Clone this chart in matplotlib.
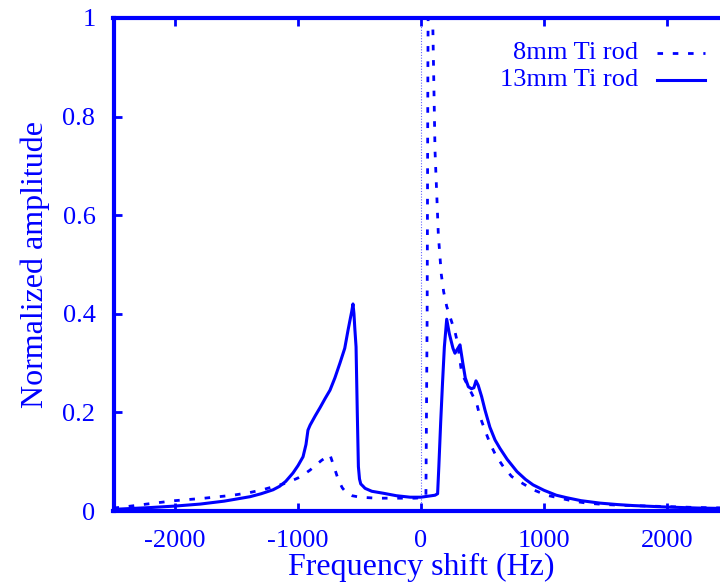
import matplotlib
matplotlib.use("Agg")
import matplotlib.pyplot as plt

# 8mm Ti rod (dashed)
freq_8mm = [-2500, -2390, -2200, -2000, -1760, -1530, -1400, -1290, -1190, -1090, -1000, -930,
            -902, -860, -807, -770, -740, -710, -672, -640, -604, -560, -496, -430, -360,
            -250, -146, -50, 16, 40, 50, 56, 62, 75, 95, 114, 130, 141, 165, 184, 209, 249,
            276, 298, 331, 385, 453, 480, 520, 561, 610, 669, 737, 832, 913, 1022, 1130,
            1240, 1347, 1500, 1700, 2000, 2250, 2500]
amp_8mm = [0.006, 0.009, 0.015, 0.021, 0.026, 0.032, 0.037, 0.043, 0.05, 0.057, 0.067, 0.078,
           0.083, 0.092, 0.103, 0.109, 0.114, 0.092, 0.063, 0.047, 0.036, 0.031, 0.028, 0.027,
           0.026, 0.026, 0.026, 0.026, 0.027, 0.03, 0.4, 0.9, 1.2, 1.3, 1.0, 0.73, 0.63, 0.56,
           0.48, 0.445, 0.415, 0.384, 0.364, 0.34, 0.279, 0.252, 0.218, 0.191, 0.164, 0.137,
           0.112, 0.09, 0.07, 0.055, 0.043, 0.032, 0.026, 0.02, 0.016, 0.013, 0.011, 0.009,
           0.007, 0.006]

# 13mm Ti rod (solid)
freq_13mm = [-2500, -2447, -2200, -2000, -1797, -1600, -1390, -1300, -1203, -1150, -1100,
             -1041, -1000, -959, -935, -919, -902, -860, -820, -780, -740, -700, -659, -620,
             -593, -575, -563, -553, -545, -538, -528, -518, -509, -500, -490, -470, -455,
             -400, -306, -200, -89, 0, 114, 135, 145, 160, 175, 190, 209, 230, 260, 276, 300,
             317, 340, 360, 385, 410, 430, 447, 465, 493, 520, 560, 602, 642, 700, 780, 850,
             911, 1000, 1100, 1184, 1300, 1455, 1600, 1726, 2000, 2250, 2500]
amp_13mm = [0.003, 0.004, 0.007, 0.01, 0.014, 0.02, 0.029, 0.035, 0.043, 0.05, 0.06, 0.077,
            0.092, 0.11, 0.135, 0.164, 0.174, 0.193, 0.21, 0.228, 0.245, 0.27, 0.30, 0.33,
            0.367, 0.39, 0.405, 0.42, 0.40, 0.37, 0.333, 0.2, 0.09, 0.065, 0.055, 0.05, 0.046,
            0.04, 0.036, 0.031, 0.028, 0.028, 0.032, 0.035, 0.09, 0.18, 0.26, 0.333, 0.389,
            0.36, 0.33, 0.32, 0.33, 0.337, 0.30, 0.27, 0.252, 0.248, 0.25, 0.264, 0.255,
            0.232, 0.205, 0.17, 0.144, 0.127, 0.105, 0.08, 0.064, 0.053, 0.042, 0.032, 0.027,
            0.021, 0.016, 0.013, 0.011, 0.008, 0.006, 0.005]

xticks = [-2000, -1000, 0, 1000, 2000]
yticks = [0, 0.2, 0.4, 0.6, 0.8, 1.0]
ytick_labels = ["0", "0.2", "0.4", "0.6", "0.8", "1"]
zero_axis = 0

blue = "#0000ff"
plt.rcParams["font.family"] = ["Liberation Serif", "DejaVu Serif"]

fig = plt.figure(figsize=(7.2, 5.86), dpi=100)
ax = fig.add_axes([113.5 / 720, 75 / 586, 615 / 720, 493 / 586])

ax.axvline(zero_axis, color=blue, lw=0.8, ls=(0, (1, 1.5)), alpha=0.6)
ax.plot(freq_8mm, amp_8mm, color=blue, lw=2.0, ls=(0, (2, 3.5)))
ax.plot(freq_13mm, amp_13mm, color=blue, lw=2.2)

ax.set_xlim(-2500, 2500)
ax.set_ylim(0, 1)
ax.set_xticks(xticks)
ax.set_xticklabels([str(t) for t in xticks])
ax.set_yticks(yticks)
ax.set_yticklabels(ytick_labels)

ax.tick_params(direction="in", length=6, width=2, color=blue, labelcolor=blue,
               labelsize=19, top=True, right=True)
ax.tick_params(axis="x", pad=14)
ax.tick_params(axis="y", pad=13)
for s in ax.spines.values():
    s.set_color(blue)
    s.set_linewidth(3)

ax.set_xlabel("Frequency shift (Hz)", color=blue, fontsize=23, labelpad=0)
ax.set_ylabel("Normalized amplitude", color=blue, fontsize=23, labelpad=9)

# key (gnuplot style: right-justified text, sample to the right)
labels = ["8mm Ti rod", "13mm Ti rod"]
styles = [(0, (2, 3.5)), "-"]
rows = [0.929, 0.874]
for lab, st, yy in zip(labels, styles, rows):
    ax.text(0.853, yy, lab, transform=ax.transAxes, ha="right", va="center",
            color=blue, fontsize=19)
    ax.plot([0.884, 0.962], [yy, yy], transform=ax.transAxes, color=blue,
            lw=2.0 if st != "-" else 2.2, ls=st, clip_on=False)

fig.savefig("out.png", dpi=100)
